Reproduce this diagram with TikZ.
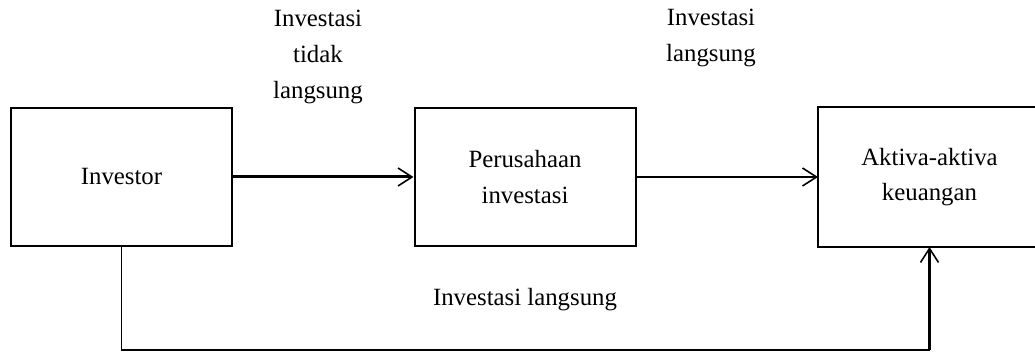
\documentclass[tikz,border=0pt]{standalone}
\usepackage{fontspec}
\setmainfont{Liberation Serif}
\usetikzlibrary{arrows.meta}
\begin{document}
\begin{tikzpicture}[x=0.5pt,y=-0.5pt,
  box/.style={draw,line width=1pt,minimum width=110.5pt,minimum height=69pt,inner sep=0pt,align=center,font=\fontsize{12.4}{17.8}\selectfont},
  lbl/.style={align=center,font=\fontsize{12.4}{18}\selectfont,inner sep=0pt},
  conn/.style={line width=1pt,-{Straight Barb[length=7pt,width=9pt,line width=0.8pt]}}]
\useasboundingbox (0,0) rectangle (1035,352);
\clip (0,0) rectangle (1035,352);
\node[box] (inv) at (121.5,177) {Investor};
\node[box] (per) at (525,177) {Perusahaan\\investasi};
\node[box,draw=none] (akt) at (929.5,177) {Aktiva-aktiva\\keuangan};
\draw[line width=1pt] (akt.north west) rectangle ([xshift=30pt]akt.south east);
\node[lbl] (l1) at (318,57) {Investasi\\tidak\\langsung};
\node[lbl] (l2) at (711,38) {Investasi\\langsung};
\node[lbl] (l3) at (525,300) {Investasi langsung};
\draw[conn,line width=1.5pt] (inv.east) -- (per.west);
\draw[conn] (per.east) -- (akt.west);
\coordinate (b) at (121.5,350);
\draw[line width=0.9pt] (inv.south) -- (b) -- (b -| akt.south);
\draw[conn,line width=1.4pt] (b -| akt.south) -- (akt.south);
\end{tikzpicture}
\end{document}
